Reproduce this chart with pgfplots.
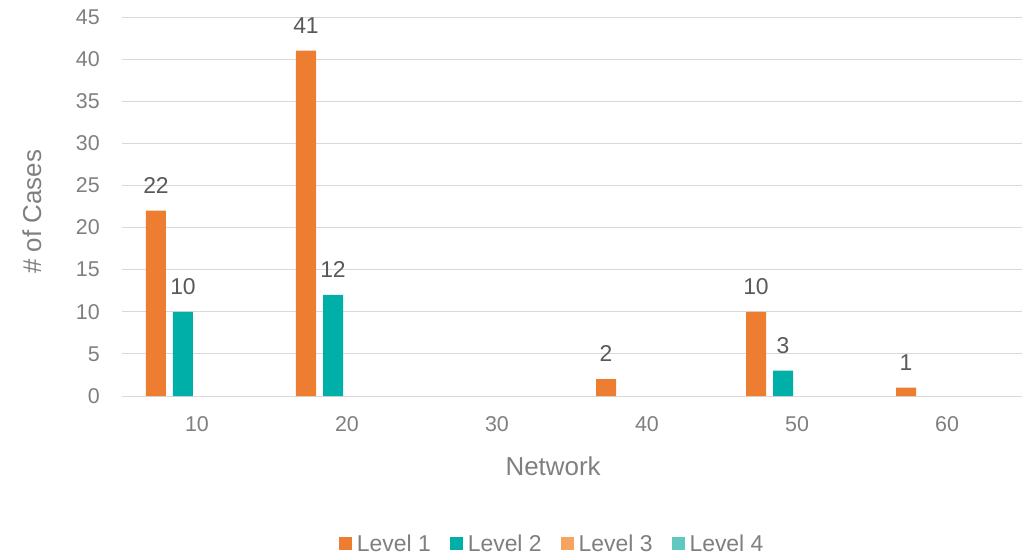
\documentclass[border=0pt]{standalone}
\usepackage{fontspec}
\setmainfont{Liberation Sans}
\usepackage{pgfplots}
\pgfplotsset{compat=1.18}
\definecolor{lv1}{HTML}{ED7D31}
\definecolor{lv2}{HTML}{00B0A8}
\definecolor{lv3}{HTML}{F7A55E}
\definecolor{lv4}{HTML}{5FC8C0}
\definecolor{txt}{HTML}{7F7F7F}
\definecolor{lbl}{HTML}{595959}
\definecolor{grd}{HTML}{D9D9D9}
\begin{document}
\begin{tikzpicture}
\path[use as bounding box] (-122bp,-159bp) rectangle (903bp,396bp);
\begin{axis}[at={(0,0)}, anchor=south west, scale only axis,
  width=900bp, height=379bp,
  xmin=-0.5, xmax=5.5, ymin=0, ymax=45,
  ytick={0,5,...,45}, xtick={0,...,5}, xticklabels={10,20,30,40,50,60},
  axis line style={draw=none}, major tick length=0pt,
  ymajorgrids, grid style={grd, line width=1bp},
  /pgf/number format/assume math mode=true,
  tick label style={font=\fontsize{21.5}{25}\selectfont, text=txt, inner sep=0pt},
  yticklabel style={anchor=east, xshift=-22bp},
  xticklabel style={anchor=north, yshift=-20bp},
  xlabel={Network}, ylabel={\# of Cases},
  label style={font=\fontsize{26}{31}\selectfont, text=txt},
  x label style={at={(axis description cs:0.479,0)}, anchor=center, yshift=-70bp},
  y label style={at={(axis description cs:-0.1,0.486)}, anchor=center},
  clip=false,
  legend columns=4,
  legend style={at={(axis description cs:0.478,-0.39)}, anchor=center, draw=none,
    font=\fontsize{23}{27}\selectfont, text=txt,
    /tikz/every even column/.append style={column sep=17bp},
    /tikz/every odd column/.append style={column sep=3bp}},
  legend image code/.code={\fill[#1] (0bp,-6.5bp) rectangle (13bp,6.5bp);},
  nodes near coords,
  every node near coord/.append style={font=\fontsize{23}{27}\selectfont, text=lbl, anchor=south, inner sep=0pt, yshift=17bp},
]
\addplot[ybar, bar width=20bp, bar shift=-41bp, fill=lv1, draw=none,
  every node near coord/.append style={xshift=-41bp}] coordinates {(0,22) (1,41) (3,2) (4,10) (5,1)};
\addlegendentry{Level 1}
\addplot[ybar, bar width=20bp, bar shift=-14bp, fill=lv2, draw=none,
  every node near coord/.append style={xshift=-14bp}] coordinates {(0,10) (1,12) (4,3)};
\addlegendentry{Level 2}
\addlegendimage{fill=lv3, draw=none}
\addlegendentry{Level 3}
\addlegendimage{fill=lv4, draw=none}
\addlegendentry{Level 4}
\end{axis}
\end{tikzpicture}
\end{document}
